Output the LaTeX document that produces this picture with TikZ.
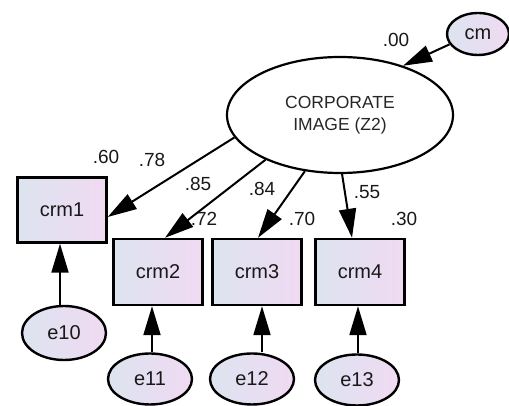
\documentclass[tikz,border=0pt]{standalone}
\usepackage{fontspec}
\setmainfont{Liberation Sans}
\usepackage{tikz}
\usetikzlibrary{positioning, shapes.geometric, arrows.meta}
\definecolor{boxleft}{HTML}{DDE4F0}
\definecolor{boxright}{HTML}{F0DAF2}
\tikzset{
    obs/.style={rectangle, draw=black, line width=2.4pt, left color=boxleft, right color=boxright, minimum width=89pt, minimum height=66pt, inner sep=0pt, font=\fontsize{20}{24}\selectfont, text=black!90},
    err/.style={ellipse, draw=black, line width=2.4pt, left color=boxleft, right color=boxright, minimum width=84pt, minimum height=51pt, inner sep=0pt, font=\fontsize{20}{24}\selectfont, text=black!90},
    latent/.style={ellipse, draw=black, line width=2.2pt, fill=white, minimum width=226pt, minimum height=116pt, inner sep=0pt, align=center, font=\fontsize{17.5}{22}\selectfont, text=black!85},
    coef/.style={inner sep=0pt, font=\fontsize{19}{22}\selectfont, text=black!90},
    path/.style={line width=2pt, -{Triangle[length=29pt, width=17pt]}},
}

\begin{document}
\begin{tikzpicture}[x=1pt, y=1pt]
        \useasboundingbox (0,0) rectangle (509,406);
        \node [latent] (corp) at (340,291) {CORPORATE\\IMAGE (Z2)};
        \node [err, minimum width=62pt, minimum height=42pt] (cm) at (478,372) {cm};
        \node [obs, minimum height=65pt] (crm1) at (62,196) {crm1};
        \node [obs] (crm2) at (158,134) {crm2};
        \node [obs] (crm3) at (257,134) {crm3};
        \node [obs] (crm4) at (360,134) {crm4};
        \node [err, minimum height=54pt] (e10) at (64,73) {e10};
        \node [err] (e11) at (150,27) {e11};
        \node [err] (e12) at (252,27) {e12};
        \node [err] (e13) at (357,26) {e13};
        % estimates
        \node [coef] (r0) at (396,366) {.00};
        \node [coef] (r1) at (106,249) {.60};
        \node [coef] (l1) at (152,246) {.78};
        \node [coef] (l2) at (198,222) {.85};
        \node [coef] (l3) at (262,217) {.84};
        \node [coef] (l4) at (367,214) {.55};
        \node [coef] (r2) at (204,187) {.72};
        \node [coef] (r3) at (302,187) {.70};
        \node [coef] (r4) at (404,187) {.30};
        \draw[path] (cm.200) -- (corp.38);
        \draw[path] (corp.192) -- ([yshift=-7pt]crm1.east);
        \draw[path] (corp.211) -- ([xshift=7pt]crm2.north);
        \draw[path] (corp.238) -- ([xshift=1pt]crm3.north);
        \draw[path] (corp.272) -- ([xshift=-8pt]crm4.north);
        \draw[path] ([xshift=-4pt]e10.north) -- ([xshift=-4pt]e10.north |- crm1.south);
        \draw[path] ([xshift=2pt]e11.north) -- ([xshift=2pt]e11.north |- crm2.south);
        \draw[path] ([xshift=10pt]e12.north) -- ([xshift=10pt]e12.north |- crm3.south);
        \draw[path] ([xshift=1pt]e13.north) -- ([xshift=1pt]e13.north |- crm4.south);
    \end{tikzpicture}
\end{document}
